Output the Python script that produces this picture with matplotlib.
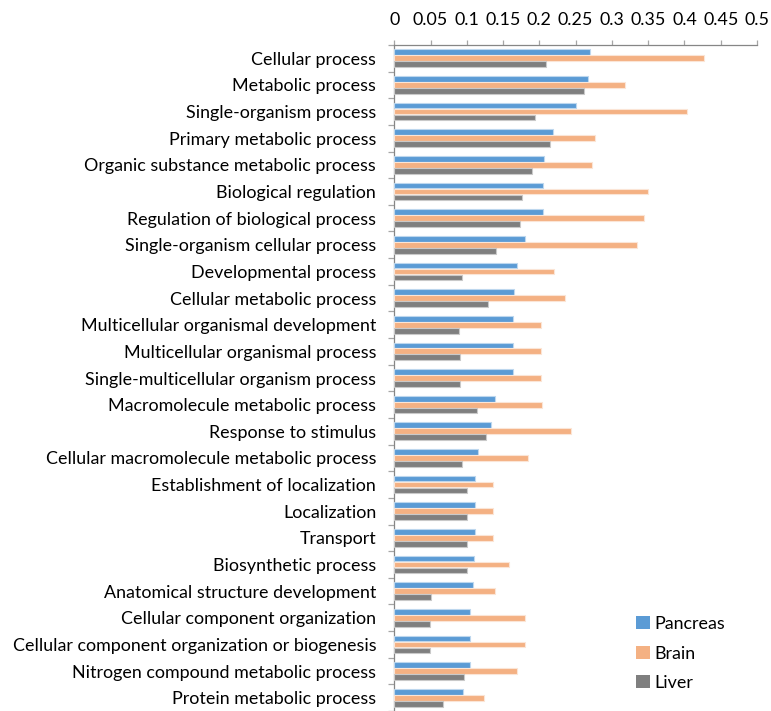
import matplotlib
matplotlib.use("Agg")
import matplotlib.pyplot as plt
import numpy as np

categories = [
    "Cellular process", "Metabolic process", "Single-organism process",
    "Primary metabolic process", "Organic substance metabolic process",
    "Biological regulation", "Regulation of biological process",
    "Single-organism cellular process", "Developmental process",
    "Cellular metabolic process", "Multicellular organismal development",
    "Multicellular organismal process", "Single-multicellular organism process",
    "Macromolecule metabolic process", "Response to stimulus",
    "Cellular macromolecule metabolic process", "Establishment of localization",
    "Localization", "Transport", "Biosynthetic process",
    "Anatomical structure development", "Cellular component organization",
    "Cellular component organization or biogenesis",
    "Nitrogen compound metabolic process", "Protein metabolic process",
]
pancreas = [0.270, 0.2675, 0.251, 0.219, 0.207, 0.2045, 0.2045, 0.180, 0.1696,
            0.1654, 0.163, 0.163, 0.163, 0.139, 0.1328, 0.1158, 0.1108, 0.1108,
            0.1108, 0.1094, 0.108, 0.1043, 0.1043, 0.1043, 0.0947]
brain = [0.4265, 0.318, 0.4035, 0.2767, 0.273, 0.3497, 0.3438, 0.335, 0.2206,
         0.236, 0.202, 0.2027, 0.2027, 0.2036, 0.243, 0.1838, 0.1356, 0.1356,
         0.1356, 0.1576, 0.1388, 0.180, 0.180, 0.1687, 0.124]
liver = [0.2086, 0.2615, 0.1935, 0.2146, 0.1893, 0.1756, 0.1737, 0.140, 0.0938,
         0.1296, 0.0892, 0.0905, 0.0905, 0.1144, 0.1268, 0.0938, 0.0997, 0.0997,
         0.0997, 0.0997, 0.051, 0.0496, 0.0496, 0.0965, 0.0676]
series_names = ["Pancreas", "Brain", "Liver"]
xticks = [0, 0.05, 0.1, 0.15, 0.2, 0.25, 0.3, 0.35, 0.4, 0.45, 0.5]

colors = ["#5B9BD5", "#F4B183", "#7F7F7F"]
edges = ["#BDD7EE", "#FBE5D6", "#C9C9C9"]

plt.rcParams['font.family'] = ['Lato', 'DejaVu Sans']

W, H = 771, 711
fig = plt.figure(figsize=(W / 100, H / 100), dpi=100)
left = 394.3 / W
right = 757.0 / W
top = 1 - 45.0 / H
ax = fig.add_axes([left, 0, right - left, top])

y = np.arange(len(categories))
step = 0.225
for k, (vals, name) in enumerate(zip([pancreas, brain, liver], series_names)):
    ax.barh(y + (k - 1) * step, vals, height=0.215, color=colors[k],
            edgecolor=edges[k], linewidth=0.8, label=name, zorder=3)

ax.set_xlim(0, 0.5)
ax.set_ylim(24.45, -0.5)

ax.xaxis.tick_top()
ax.set_xticks(xticks)
ax.set_xticklabels(["%g" % t for t in xticks])
ax.tick_params(axis='x', which='major', direction='out', length=3.6, width=0.9,
               color='#A6A6A6', labelsize=12.9, pad=8.4, labelcolor='#000000')

ax.set_yticks(np.arange(len(categories) + 1) - 0.5)
ax.set_yticklabels([])
ax.set_yticks(y, minor=True)
ax.set_yticklabels(categories, minor=True)
ax.tick_params(axis='y', which='major', direction='out', length=4.3, width=0.9,
               color='#A6A6A6')
ax.tick_params(axis='y', which='minor', length=0, labelsize=12.9, pad=13,
               labelcolor='#000000')

for s in ['right', 'bottom']:
    ax.spines[s].set_visible(False)
for s in ['left', 'top']:
    ax.spines[s].set_color('#868686')
    ax.spines[s].set_linewidth(0.9)

leg = fig.legend(loc='upper left', bbox_to_anchor=(620 / W, 1 - 600 / H),
                 frameon=False, fontsize=12.9, handlelength=0.75,
                 handleheight=0.75, handletextpad=0.25, labelspacing=0.75)
for h in leg.legend_handles:
    h.set_edgecolor('none')

fig.savefig("out.png", dpi=100)
